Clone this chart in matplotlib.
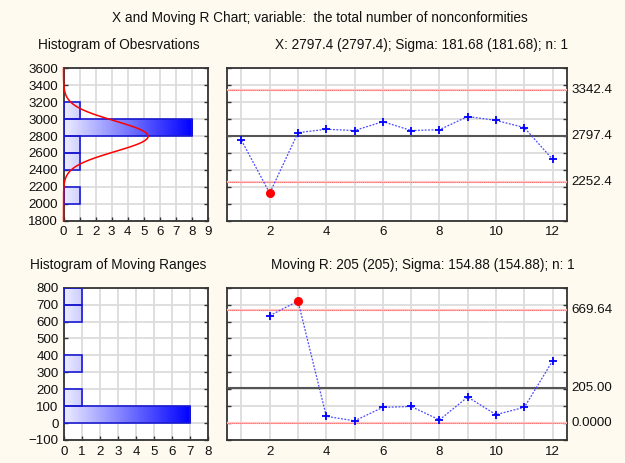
import numpy as np
import matplotlib
matplotlib.use('Agg')
import matplotlib.pyplot as plt
from matplotlib.colors import LinearSegmentedColormap
from matplotlib.patches import Rectangle
from matplotlib.transforms import blended_transform_factory

plt.rcParams['font.family'] = ['Liberation Sans', 'DejaVu Sans']
FS = 9.8
TFS = 9.6

# ---- data ----
samples = list(range(1, 13))
x_values = [2750, 2125, 2840, 2880, 2865, 2970, 2865, 2875, 3030, 2985, 2900, 2525]
mr_samples = list(range(2, 13))
mr_values = [635, 721, 40, 13, 93, 98, 19, 154, 50, 93, 367]

x_center, x_ucl, x_lcl = 2797.4, 3342.4, 2252.4
x_sigma = 181.68
mr_center, mr_ucl, mr_lcl = 205.0, 669.64, 0.0
x_limit_labels = ['3342.4', '2797.4', '2252.4']
mr_limit_labels = ['669.64', '205.00', '0.0000']

x_bin_low = [2000, 2400, 2600, 2800, 3000]
x_bin_counts = [1, 1, 1, 8, 1]
x_bin_width = 200
mr_bin_low = [0, 100, 300, 600, 700]
mr_bin_counts = [7, 1, 1, 1, 1]
mr_bin_width = 100

title = 'X and Moving R Chart; variable:  the total number of nonconformities'
sub_x_hist = 'Histogram of Obesrvations'
sub_x = 'X: 2797.4 (2797.4); Sigma: 181.68 (181.68); n: 1'
sub_mr_hist = 'Histogram of Moving Ranges'
sub_mr = 'Moving R: 205 (205); Sigma: 154.88 (154.88); n: 1'

BG = '#fffaef'
GRID = '#dcdcdc'
SPINE = '#333333'

W, H = 625, 463
fig = plt.figure(figsize=(W / 100, H / 100), dpi=100, facecolor=BG)


def rect(l, t, r, b):
    return [l / W, 1 - b / H, (r - l) / W, (b - t) / H]


cmap = LinearSegmentedColormap.from_list('g', ['#ececff', '#0000ff'])


def style(ax):
    ax.set_facecolor('white')
    for s in ax.spines.values():
        s.set_color(SPINE)
        s.set_linewidth(1.3)
    ax.tick_params(direction='in', length=3, width=1, color=SPINE,
                   labelsize=TFS, labelcolor='#111111', pad=4,
                   left=True, right=True, bottom=True, top=False)
    ax.grid(True, color=GRID, lw=1.3, zorder=0)
    ax.set_axisbelow(True)


def hist(ax, lows, counts, width, xmax, ylim, yticks):
    style(ax)
    ax.set_xlim(0, xmax)
    ax.set_ylim(*ylim)
    ax.set_xticks(range(0, xmax + 1))
    ax.set_yticks(yticks)
    mx = max(counts)
    grad = np.linspace(0, 1, 256).reshape(1, -1)
    for lo, c in zip(lows, counts):
        r = Rectangle((0, lo), c, width, facecolor='none', edgecolor='#1a1ad0',
                      lw=1.2, zorder=3)
        ax.add_patch(r)
        im = ax.imshow(grad, cmap=cmap, extent=[0, mx, lo, lo + width],
                       aspect='auto', zorder=2, interpolation='bilinear')
        clip = Rectangle((0, lo), c, width, transform=ax.transData)
        im.set_clip_path(clip)
    ax.set_xlim(0, xmax)
    ax.set_ylim(*ylim)


def control(ax, xs, vals, center, ucl, lcl, labels, ylim, yticks):
    style(ax)
    ax.set_xlim(0.5, 12.5)
    ax.set_ylim(*ylim)
    ax.set_xticks(range(1, 13))
    ax.set_xticklabels([str(i) if i % 2 == 0 else '' for i in range(1, 13)])
    ax.tick_params(axis='x', length=0)
    ax.set_yticks(yticks)
    ax.set_yticklabels([])
    ax.axhline(center, color='#555555', lw=1.5, zorder=3)
    for v in (ucl, lcl):
        ax.axhline(v, color='#ffc4c4', lw=1.6, zorder=3)
        ax.axhline(v, color='#ff5050', lw=0.5, ls=(0, (2, 1)), zorder=3)
    ax.plot(xs, vals, color='#4a4aff', lw=0.9, ls=(0, (1.5, 1.2)), zorder=4)
    out = [(x, v) for x, v in zip(xs, vals) if v > ucl or v < lcl]
    ins = [(x, v) for x, v in zip(xs, vals) if lcl <= v <= ucl]
    ax.plot([p[0] for p in ins], [p[1] for p in ins], ls='none', marker='+',
            ms=6, mew=1.3, color='#0000ff', zorder=5)
    ax.plot([p[0] for p in out], [p[1] for p in out], ls='none', marker='o',
            ms=5.5, color='#ff0000', zorder=5)
    tr = blended_transform_factory(ax.transAxes, ax.transData)
    for v, lab in zip((ucl, center, lcl), labels):
        ax.text(1.015, v, lab, transform=tr, va='center', ha='left',
                fontsize=TFS, color='#111111')


ax1 = fig.add_axes(rect(63.5, 68.3, 208, 220.7))
hist(ax1, x_bin_low, x_bin_counts, x_bin_width, 9, (1800, 3600),
     range(1800, 3601, 200))
yy = np.linspace(1800, 3600, 400)
curve = sum(x_bin_counts) * x_bin_width / (x_sigma * np.sqrt(2 * np.pi)) * \
    np.exp(-0.5 * ((yy - x_center) / x_sigma) ** 2)
ax1.plot(curve, yy, color='#ff0000', lw=1.1, zorder=4, clip_on=False)

ax2 = fig.add_axes(rect(227.3, 68.3, 566.7, 220.7))
control(ax2, samples, x_values, x_center, x_ucl, x_lcl, x_limit_labels,
        (1800, 3600), range(1800, 3601, 200))

ax3 = fig.add_axes(rect(64, 287.7, 208.3, 440))
hist(ax3, mr_bin_low, mr_bin_counts, mr_bin_width, 8, (-100, 800),
     range(-100, 801, 100))

ax4 = fig.add_axes(rect(227.3, 287.7, 566.7, 440))
control(ax4, mr_samples, mr_values, mr_center, mr_ucl, mr_lcl,
        mr_limit_labels, (-100, 800), range(-100, 801, 100))

fig.text(320 / W, 1 - 18 / H, title, ha='center', va='center', fontsize=FS,
         color='#111111')
fig.text(118.5 / W, 1 - 45 / H, sub_x_hist, ha='center', va='center',
         fontsize=FS, color='#111111')
fig.text(275 / W, 1 - 45 / H, sub_x, ha='left', va='center', fontsize=FS,
         color='#111111')
fig.text(118.5 / W, 1 - 265 / H, sub_mr_hist, ha='center', va='center',
         fontsize=FS, color='#111111')
fig.text(271 / W, 1 - 265 / H, sub_mr, ha='left', va='center', fontsize=FS,
         color='#111111')

fig.savefig('out.png', dpi=100, facecolor=BG)
